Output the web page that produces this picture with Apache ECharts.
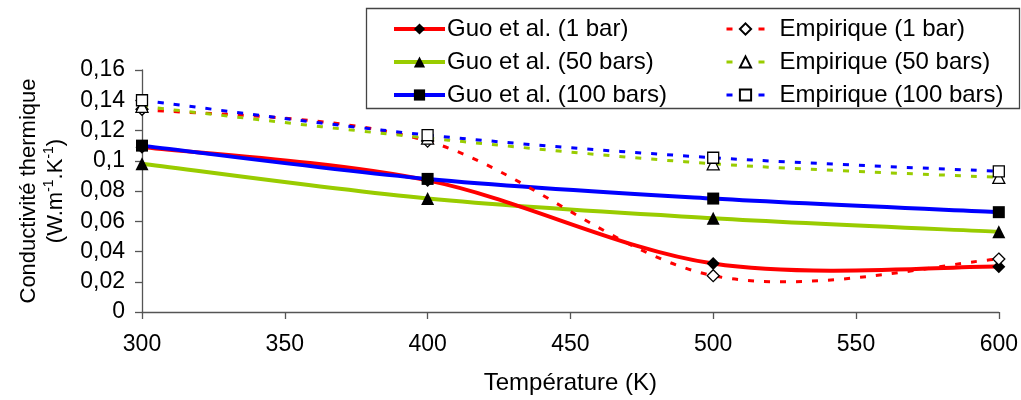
<!DOCTYPE html>
<html><head><meta charset="utf-8">
<script src="https://cdn.jsdelivr.net/npm/echarts@6/dist/echarts.min.js"></script>
<style>html,body{margin:0;padding:0;background:#fff}#c{width:1021px;height:400px}</style>
</head><body><div id="c"></div>
<script>
const temperatures = [300, 400, 500, 600];
const guo1 = [0.109, 0.087, 0.032, 0.030];
const guo50 = [0.098, 0.075, 0.062, 0.053];
const guo100 = [0.110, 0.088, 0.075, 0.066];
const emp1 = [0.134, 0.113, 0.024, 0.035];
const emp50 = [0.136, 0.115, 0.098, 0.089];
const emp100 = [0.140, 0.117, 0.102, 0.093];
const seriesNames = ['Guo et al. (1 bar)', 'Empirique (1 bar)', 'Guo et al. (50 bars)', 'Empirique (50 bars)', 'Guo et al. (100 bars)', 'Empirique (100 bars)'];
const yTicks = {min: 0, max: 0.16, interval: 0.02};
const xTicks = {min: 300, max: 600, interval: 50};

const FONT = 'Liberation Sans, Arial, sans-serif';
const pairs = v => temperatures.map((t, i) => [t, v[i]]);
const RED = '#FF0000', GREEN = '#99CC00', BLUE = '#0000FF';
const DASH = [6, 10];

// Smooth curve (Catmull-Rom style Bezier, like a spreadsheet's "smoothed line") through the data, via the axes' scales
function curveSeries(vals, color, width, dash, z) {
  return {type: 'custom', data: pairs(vals), z, silent: true,
    renderItem: (params, api) => {
      if (params.dataIndex !== 0) return null;
      const p = temperatures.map((t, i) => api.coord([t, vals[i]]));
      let d = 'M' + p[0][0] + ',' + p[0][1];
      for (let i = 0; i < p.length - 1; i++) {
        const p0 = p[i - 1] || p[i], p1 = p[i], p2 = p[i + 1], p3 = p[i + 2] || p[i + 1];
        const c1x = p1[0] + (p2[0] - p0[0]) / 6, c1y = p1[1] + (p2[1] - p0[1]) / 6;
        const c2x = p2[0] - (p3[0] - p1[0]) / 6, c2y = p2[1] - (p3[1] - p1[1]) / 6;
        d += ' C' + c1x + ',' + c1y + ' ' + c2x + ',' + c2y + ' ' + p2[0] + ',' + p2[1];
      }
      return {type: 'path', shape: {pathData: d},
        style: {fill: null, stroke: color, lineWidth: width, lineDash: dash || null}};
    }};
}
function markers(name, data, symbol, size, hollow) {
  return {name, type: 'line', data: pairs(data), symbol, symbolSize: size, showSymbol: true,
    lineStyle: {width: 0, opacity: 0},
    itemStyle: hollow ? {color: '#fff', borderColor: '#000', borderWidth: 1.3} : {color: '#000', borderWidth: 0},
    z: 10};
}

const chart = echarts.init(document.getElementById('c'), null, {renderer: 'canvas'});
chart.setOption({
  animation: false,
  textStyle: {fontFamily: FONT},
  grid: {left: 142, right: 18, top: 70, bottom: 87, containLabel: false},
  xAxis: {type: 'value', min: xTicks.min, max: xTicks.max, interval: xTicks.interval,
    name: 'Température (K)', nameLocation: 'middle', nameGap: 59,
    nameTextStyle: {fontSize: 24, color: '#000', fontFamily: FONT},
    axisLine: {lineStyle: {color: '#555', width: 1.3}},
    axisTick: {show: true, inside: false, length: 7, lineStyle: {color: '#555', width: 1.3}},
    axisLabel: {fontSize: 23, color: '#000', margin: 21, fontFamily: FONT},
    splitLine: {show: false}},
  yAxis: {type: 'value', min: yTicks.min, max: yTicks.max, interval: yTicks.interval,
    name: 'Conductivité thermique\n(W.m{sup|-1}.K{sup|-1})', nameLocation: 'middle', nameGap: 71, nameRotate: 90,
    nameTextStyle: {fontSize: 22, color: '#000', fontFamily: FONT, lineHeight: 27, align: 'center',
      rich: {sup: {fontSize: 14, color: '#000', fontFamily: FONT, verticalAlign: 'top', lineHeight: 27}}},
    axisLine: {show: true, lineStyle: {color: '#555', width: 1.3}},
    axisTick: {show: true, inside: false, length: 7, lineStyle: {color: '#555', width: 1.3}},
    axisLabel: {fontSize: 23, color: '#000', margin: 17, fontFamily: FONT,
      formatter: v => String(+v.toFixed(2)).replace('.', ',')},
    splitLine: {show: false}},
  legend: [
    {orient: 'vertical', left: 392, top: 17, padding: 0, itemWidth: 51, itemHeight: 14, itemGap: 9,
      data: [
        {name: seriesNames[0], lineStyle: {color: RED, width: 4, opacity: 1, type: 'solid'}},
        {name: seriesNames[2], lineStyle: {color: GREEN, width: 4, opacity: 1, type: 'solid'}},
        {name: seriesNames[4], lineStyle: {color: BLUE, width: 4, opacity: 1, type: 'solid'}}],
      textStyle: {fontSize: 24, color: '#000', fontFamily: FONT, padding: [0, 0, 0, -3]}},
    {orient: 'vertical', left: 725, top: 17, padding: 0, itemWidth: 38, itemHeight: 14, itemGap: 9,
      data: [
        {name: seriesNames[1], lineStyle: {color: RED, width: 3, opacity: 1, type: DASH}},
        {name: seriesNames[3], lineStyle: {color: GREEN, width: 3, opacity: 1, type: DASH}},
        {name: seriesNames[5], lineStyle: {color: BLUE, width: 3, opacity: 1, type: DASH}}],
      textStyle: {fontSize: 24, color: '#000', fontFamily: FONT, padding: [0, 0, 0, 10]}}
  ],
  graphic: [{type: 'rect', shape: {x: 366.5, y: 8.5, width: 653, height: 100}, style: {fill: 'none', stroke: '#444', lineWidth: 1.3}, z: 10, silent: true}],
  series: [
    curveSeries(guo50, GREEN, 4, null, 2),
    curveSeries(guo1, RED, 4, null, 2),
    curveSeries(guo100, BLUE, 4, null, 2),
    curveSeries(emp1, RED, 3, DASH, 3),
    curveSeries(emp50, GREEN, 3, DASH, 3),
    curveSeries(emp100, BLUE, 3, DASH, 3),
    markers(seriesNames[0], guo1, 'diamond', 13, false),
    markers(seriesNames[2], guo50, 'triangle', 13, false),
    markers(seriesNames[4], guo100, 'rect', 12, false),
    markers(seriesNames[1], emp1, 'diamond', 12, true),
    markers(seriesNames[3], emp50, 'triangle', 12, true),
    markers(seriesNames[5], emp100, 'rect', 11, true)
  ]
});
</script></body></html>
